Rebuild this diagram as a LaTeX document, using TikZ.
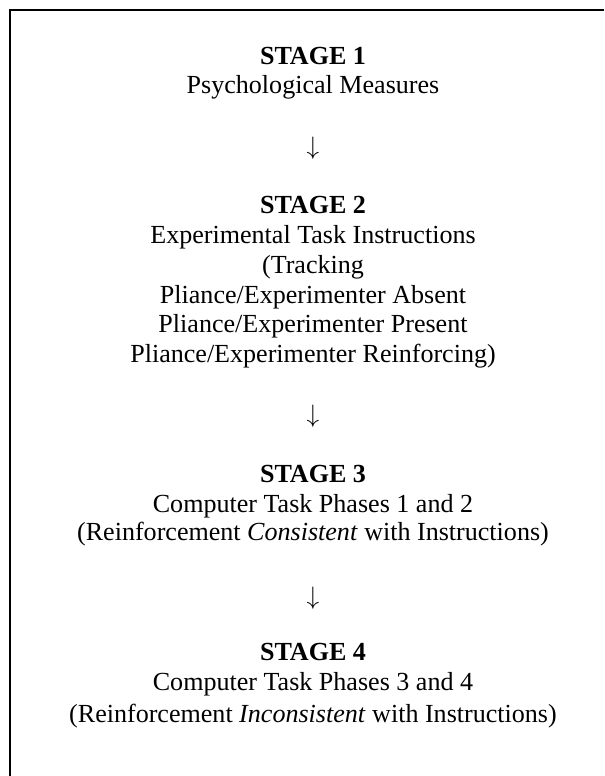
\documentclass[tikz,border=0pt]{standalone}
\usepackage{fontspec}
\setmainfont{Liberation Serif}
\begin{document}
\begin{tikzpicture}[x=0.4758pt,y=-0.4758pt,
  txt/.style={anchor=base,inner sep=0pt,font=\fontsize{12.4pt}{14pt}\selectfont},
  hd/.style={txt,font=\fontsize{12.4pt}{14pt}\selectfont\bfseries},
  arr/.style={anchor=center,inner sep=0pt,font=\fontsize{11.5pt}{14pt}\selectfont},
  frame/.style={line width=0.95pt}]
\useasboundingbox (0,0) rectangle (604,776);
\coordinate (tl) at (10,10);
\coordinate (tr) at (604,10);
\coordinate (bl) at (10,776);
\draw[frame] (tr) -- (tl) -- (bl);
\def\cx{313}
\node[hd]  (s1h) at (\cx,65)  {STAGE 1};
\node[txt] (s1a) at (\cx,93)  {Psychological Measures};
\node[arr] (a1)  at (\cx,148) {$\downarrow$};
\node[hd]  (s2h) at (\cx,213) {STAGE 2};
\node[txt] (s2a) at (\cx,243) {Experimental Task Instructions};
\node[txt] (s2b) at (\cx,273) {(Tracking};
\node[txt] (s2c) at (\cx,303) {Pliance/Experimenter Absent};
\node[txt] (s2d) at (\cx,332) {Pliance/Experimenter Present};
\node[txt] (s2e) at (\cx,362) {Pliance/Experimenter Reinforcing)};
\node[arr] (a2)  at (\cx,416) {$\downarrow$};
\node[hd]  (s3h) at (\cx,482) {STAGE 3};
\node[txt] (s3a) at (\cx,512) {Computer Task Phases 1 and 2};
\node[txt] (s3b) at (\cx,540) {(Reinforcement \textit{Consistent} with Instructions)};
\node[arr] (a3)  at (\cx,598) {$\downarrow$};
\node[hd]  (s4h) at (\cx,660) {STAGE 4};
\node[txt] (s4a) at (\cx,690) {Computer Task Phases 3 and 4};
\node[txt] (s4b) at (\cx,722) {(Reinforcement \textit{Inconsistent} with Instructions)};
\end{tikzpicture}
\end{document}
